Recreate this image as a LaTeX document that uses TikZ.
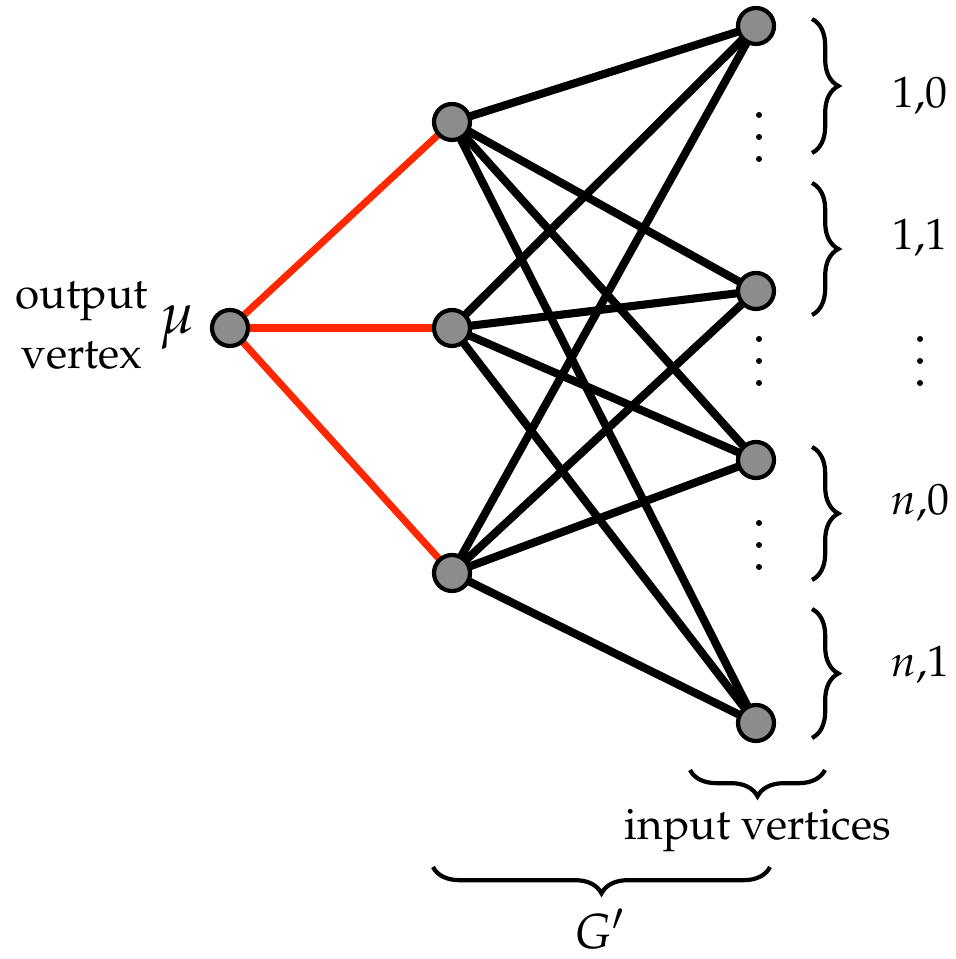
\documentclass[tikz,border=0pt]{standalone}
\usepackage[T1]{fontenc}
\usepackage{mathpazo}
\usetikzlibrary{decorations.pathreplacing,backgrounds}
\definecolor{edgered}{RGB}{255,40,0}

\begin{document}
\begin{tikzpicture}[font=\fontsize{12.5}{17}\selectfont,
  vertex/.style={circle,draw,line width=1.2pt,fill=black!45,inner sep=0pt,minimum size=3.6mm},
  edge/.style={line width=2.3pt},
  redge/.style={line width=2pt,draw=edgered},
  grp/.style={decorate,decoration={brace,amplitude=7.5pt},line width=1.2pt}]
\useasboundingbox (0,0) rectangle (9.55,9.59);
% vertices
\node[vertex,label={[label distance=3pt,inner sep=1pt,font=\fontsize{16.5}{18}\selectfont]left:$\mu$}] (out) at (2.30,6.31) {};
\node[vertex] (m1) at (4.52,8.37) {};
\node[vertex] (m2) at (4.52,6.31) {};
\node[vertex] (m3) at (4.52,3.86) {};
\node[vertex] (r1) at (7.56,9.33) {};
\node[vertex] (r2) at (7.56,6.68) {};
\node[vertex] (r3) at (7.56,4.99) {};
\node[vertex] (r4) at (7.56,2.36) {};
\node[align=center] (outlbl) at (0.82,6.33) {output\\vertex};
% edges
\begin{scope}[on background layer]
\foreach \m in {m1,m2,m3}{
  \draw[redge] (out.center) -- (\m.center);
  \foreach \r in {r1,r2,r3,r4}
    \draw[edge] (\m.center) -- (\r.center);
}
\end{scope}
% dots
\foreach \x/\y in {7.59/8.22,7.59/5.98,7.59/4.14,9.20/5.98}
  \foreach \d in {-0.22,0,0.22}
    \fill (\x,\y+\d) circle (0.03);
% groups
\draw[grp] (8.12,9.40) -- (8.12,8.06);
\draw[grp] (8.12,7.76) -- (8.12,6.44);
\draw[grp] (8.12,5.12) -- (8.12,3.79);
\draw[grp] (8.12,3.50) -- (8.12,2.21);
\node[anchor=base] (g10) at (9.20,8.51) {1,0};
\node[anchor=base] (g11) at (9.20,7.09) {1,1};
\node[anchor=base] (gn0) at (9.20,4.44) {$n$,0};
\node[anchor=base] (gn1) at (9.20,2.82) {$n$,1};
\draw[grp] (8.25,1.89) -- (6.90,1.89);
\node[anchor=base] (inlbl) at (7.58,1.19) {input vertices};
\draw[grp] (7.70,0.92) -- (4.33,0.92);
\node[anchor=base,font=\fontsize{14}{16}\selectfont] (glbl) at (6.00,0.11) {$G'$};
\end{tikzpicture}
\end{document}
